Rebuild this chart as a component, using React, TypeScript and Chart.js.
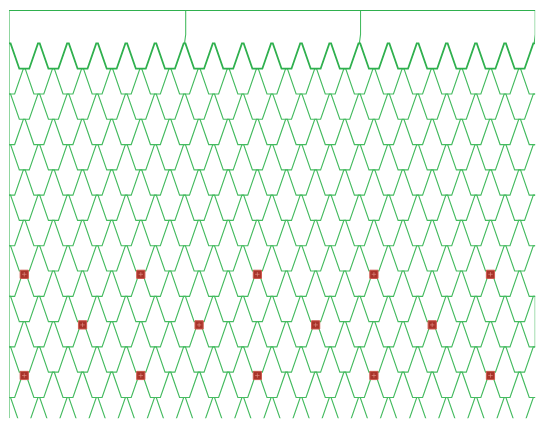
import React, { useEffect, useRef } from "react";
import { Chart, registerables } from "chart.js";

Chart.register(...registerables);

// Row levels of the zig-zag lattice (each row spans one level down to the next)
const ROWS = [0, 1, 2, 3, 4, 5, 6, 7, 8, 9, 10, 11, 12, 13, 14];
// Peak positions on even and odd rows (odd rows are shifted by half a step)
const PEAKS_EVEN = [0, 1, 2, 3, 4, 5, 6, 7, 8, 9, 10, 11, 12, 13, 14, 15, 16, 17, 18];
const PEAKS_ODD = [-0.5, 0.5, 1.5, 2.5, 3.5, 4.5, 5.5, 6.5, 7.5, 8.5, 9.5, 10.5, 11.5, 12.5, 13.5, 14.5, 15.5, 16.5, 17.5, 18.5];
// Width of the flat top and flat bottom of each tooth
const TOP_FLAT = [0.06];
const BOTTOM_FLAT = [0.34];
// Frame
const FRAME_TOP = [-1.32];
const FRAME_LEFT = [-0.024];
const FRAME_RIGHT = [18.035];
const Y_MAX = [14.819];
const DIVIDERS = [6, 12, 18];
const RIGHT_EDGE_SEGMENT = [10, 12];
// Red markers
const MARKER_ROWS = [9.13, 11.13, 13.13];
const MARKER_X_WIDE = [0.5, 4.5, 8.5, 12.5, 16.5];
const MARKER_X_NARROW = [2.5, 6.5, 10.5, 14.5];

const GREEN = "#2fb04e";
const GREEN_LIGHT = "#45bb60";

function rowPoints(r: number) {
  const peaks = r % 2 === 0 ? PEAKS_EVEN : PEAKS_ODD;
  const tf = TOP_FLAT[0];
  const bf = BOTTOM_FLAT[0];
  const pts: { x: number; y: number }[] = [];
  peaks.forEach((p, i) => {
    if (i > 0) {
      const c = p - 0.5;
      pts.push({ x: c - bf / 2, y: r + 1 }, { x: c + bf / 2, y: r + 1 });
    }
    pts.push({ x: p - tf / 2, y: r }, { x: p + tf / 2, y: r });
  });
  return pts;
}

export default function App() {
  const ref = useRef<HTMLCanvasElement | null>(null);

  useEffect(() => {
    if (!ref.current) return;

    const markerPts: { x: number; y: number }[] = [];
    MARKER_ROWS.forEach((y, i) => {
      const xs = i % 2 === 0 ? MARKER_X_WIDE : MARKER_X_NARROW;
      xs.forEach((x) => markerPts.push({ x, y }));
    });

    const lineDs = (data: { x: number; y: number }[], color: string, width: number) => ({
      data,
      showLine: true,
      borderColor: color,
      borderWidth: width,
      pointRadius: 0,
      tension: 0,
      fill: false,
      order: 2,
    });

    const datasets: any[] = [
      {
        data: markerPts,
        pointStyle: "cross",
        pointRadius: 2.2,
        borderColor: "rgba(230,150,140,0.6)",
        borderWidth: 1,
        showLine: false,
        order: 0,
      },
      {
        data: markerPts,
        pointStyle: "rect",
        pointRadius: 5.8,
        backgroundColor: "#a83329",
        borderColor: "#cf5a4f",
        borderWidth: 1,
        showLine: false,
        order: 1,
      },
    ];

    ROWS.forEach((r) => {
      datasets.push(lineDs(rowPoints(r), r === 0 ? GREEN : GREEN_LIGHT, r === 0 ? 1.8 : 1.15));
    });

    // frame: top line
    datasets.push(
      lineDs(
        [
          { x: FRAME_LEFT[0], y: FRAME_TOP[0] },
          { x: FRAME_RIGHT[0], y: FRAME_TOP[0] },
        ],
        GREEN,
        1.8
      )
    );
    // left edge
    datasets.push(
      lineDs(
        [
          { x: FRAME_LEFT[0], y: FRAME_TOP[0] },
          { x: FRAME_LEFT[0], y: Y_MAX[0] },
        ],
        GREEN_LIGHT,
        1.2
      )
    );
    // dividers down to the first row of teeth
    DIVIDERS.forEach((d) => {
      const xTop = d === 18 ? FRAME_RIGHT[0] : d + 0.04;
      datasets.push(
        lineDs(
          [
            { x: xTop, y: FRAME_TOP[0] },
            { x: xTop, y: -0.35 },
            { x: d, y: 0 },
          ],
          GREEN_LIGHT,
          1.1
        )
      );
    });
    // right edge segment
    datasets.push(
      lineDs(
        [
          { x: FRAME_RIGHT[0], y: RIGHT_EDGE_SEGMENT[0] },
          { x: FRAME_RIGHT[0], y: RIGHT_EDGE_SEGMENT[1] },
        ],
        GREEN_LIGHT,
        1.1
      )
    );

    const chart = new Chart(ref.current, {
      type: "scatter",
      data: { datasets },
      options: {
        animation: false,
        responsive: false,
        devicePixelRatio: 1,
        events: [],
        layout: { padding: { left: 9, right: 1, top: 10, bottom: 0 } },
        plugins: { legend: { display: false }, tooltip: { enabled: false } },
        scales: {
          x: { type: "linear", min: FRAME_LEFT[0], max: FRAME_RIGHT[0], display: false },
          y: { type: "linear", min: FRAME_TOP[0], max: Y_MAX[0], reverse: true, display: false },
        },
      },
    });
    return () => chart.destroy();
  }, []);

  return (
    <div style={{ position: "fixed", left: 0, top: 0, width: 542, height: 425, background: "#fff" }}>
      <canvas ref={ref} width={542} height={425} style={{ display: "block" }} />
    </div>
  );
}
